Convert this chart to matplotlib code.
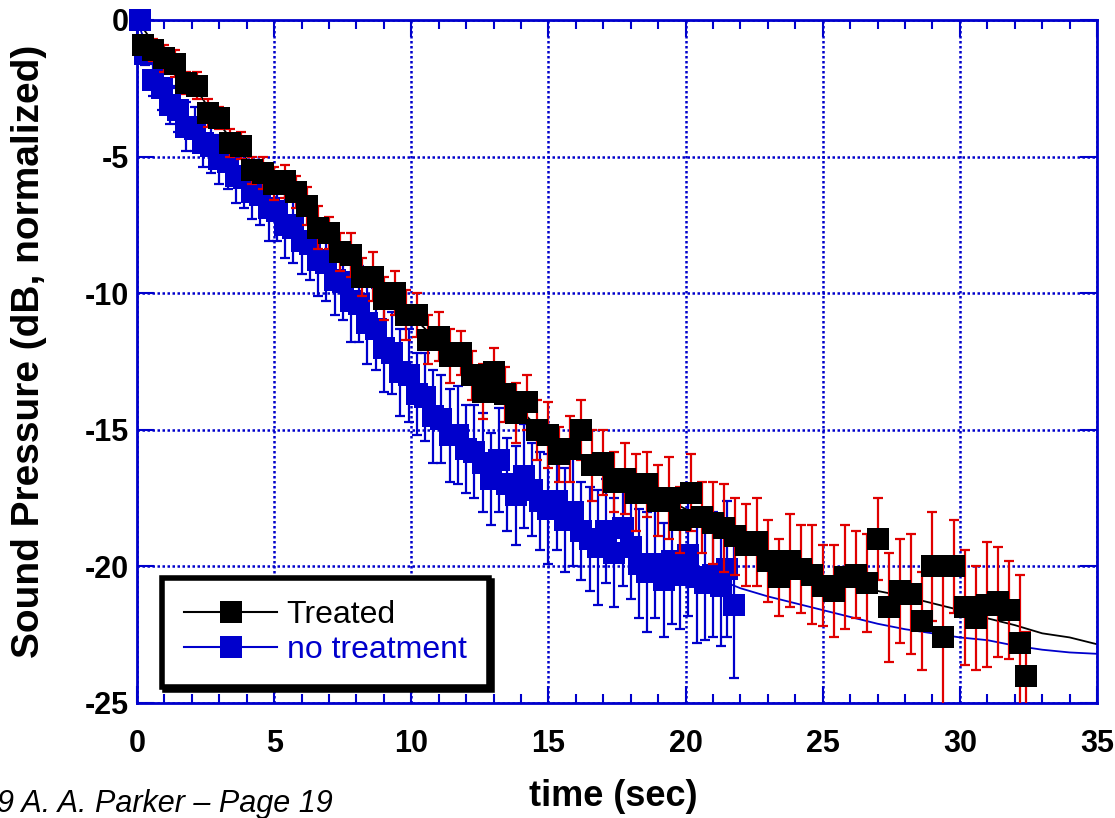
"""Reverberation decay: treated vs. untreated"""

import matplotlib

matplotlib.use("Agg")
import matplotlib.pyplot as plt
from matplotlib.lines import Line2D

plt.rcParams["font.family"] = ["Liberation Sans", "DejaVu Sans"]
plt.rcParams["axes.unicode_minus"] = False

BLUE = "#0000CC"
RED = "#E00000"

# Treated (black squares, red error bars)
t_treated = [0.2, 0.6, 1.0, 1.4, 1.8, 2.2, 2.6, 3.0, 3.4, 3.8, 4.2, 4.6, 5.0,
             5.4, 5.8, 6.2, 6.6, 7.0, 7.4, 7.8, 8.2, 8.6, 9.0, 9.4, 9.8, 10.2,
             10.6, 11.0, 11.4, 11.8, 12.2, 12.6, 13.0, 13.4, 13.8, 14.2, 14.6,
             15.0, 15.4, 15.8, 16.2, 16.6, 17.0, 17.4, 17.8, 18.2, 18.6, 19.0,
             19.4, 19.8, 20.2, 20.6, 21.0, 21.4, 21.8, 22.2, 22.6, 23.0, 23.4,
             23.8, 24.2, 24.6, 25.0, 25.4, 25.8, 26.2, 26.6, 27.0, 27.4, 27.8,
             28.2, 28.6, 29.0, 29.4, 29.8, 30.2, 30.6, 31.0, 31.4, 31.8, 32.2,
             32.4]
db_treated = [-0.9, -1.1, -1.4, -1.6, -2.3, -2.4, -3.4, -3.6, -4.5, -4.6, -5.5,
              -5.6, -6.0, -5.9, -6.3, -6.8, -7.6, -7.8, -8.5, -8.6, -9.4, -9.4,
              -10.2, -10.0, -10.8, -10.8, -11.7, -11.6, -12.3, -12.2, -13.0,
              -13.6, -12.9, -13.7, -14.4, -14.0, -15.0, -15.2, -15.9, -15.7,
              -15.0, -16.3, -16.2, -16.9, -16.8, -17.3, -17.0, -17.6, -17.5,
              -18.3, -17.3, -18.2, -18.4, -18.6, -18.9, -19.2, -19.1, -19.8,
              -20.4, -19.8, -20.1, -20.3, -20.7, -20.9, -20.4, -20.3, -20.6,
              -19.0, -21.5, -20.9, -21.0, -22.0, -20.0, -22.6, -20.0, -21.5,
              -21.9, -21.4, -21.3, -21.6, -22.8, -24.0]
err_treated = [0.2, 0.4, 0.5, 0.5, 0.4, 0.5, 0.5, 0.4, 0.5, 0.5, 0.5, 0.6, 0.6,
               0.6, 0.6, 0.7, 0.8, 0.6, 0.7, 0.8, 0.7, 0.9, 0.8, 0.8, 0.9, 0.8,
               0.9, 0.9, 1.0, 0.8, 0.9, 1.0, 0.9, 1.0, 1.1, 1.0, 1.1, 1.2, 1.0,
               1.2, 1.1, 1.3, 1.2, 1.1, 1.3, 1.4, 1.2, 1.3, 1.5, 1.2, 1.4, 1.3,
               1.5, 1.6, 1.4, 1.5, 1.6, 1.5, 1.4, 1.7, 1.6, 1.8, 1.5, 1.7, 1.9,
               1.6, 1.8, 1.5, 2.0, 1.9, 2.2, 1.8, 2.0, 2.6, 1.7, 2.1, 1.9, 2.3,
               2.0, 1.8, 2.5, 1.6]

# No treatment (blue squares, blue error bars)
t_none = [0.1, 0.3, 0.6, 0.9, 1.2, 1.5, 1.8, 2.1, 2.4, 2.7, 3.0, 3.3, 3.6, 3.9,
          4.2, 4.5, 4.8, 5.1, 5.4, 5.7, 6.0, 6.3, 6.6, 6.9, 7.2, 7.5, 7.8, 8.1,
          8.4, 8.7, 9.0, 9.3, 9.6, 9.9, 10.2, 10.5, 10.8, 11.1, 11.4, 11.7,
          12.0, 12.3, 12.6, 12.9, 13.2, 13.5, 13.8, 14.1, 14.4, 14.7, 15.0,
          15.3, 15.6, 15.9, 16.2, 16.5, 16.8, 17.1, 17.4, 17.7, 18.0, 18.3,
          18.6, 18.9, 19.2, 19.5, 19.8, 20.1, 20.4, 20.7, 21.0, 21.3, 21.5,
          21.75]
db_none = [0.0, -1.25, -2.2, -2.5, -3.1, -3.3, -3.9, -4.0, -4.5, -4.6, -5.1,
           -5.2, -5.7, -5.8, -6.3, -6.4, -6.9, -7.0, -7.5, -7.6, -8.1, -8.2,
           -8.8, -8.9, -9.5, -9.6, -10.3, -10.4, -11.1, -11.3, -12.0, -12.2,
           -12.9, -13.0, -13.7, -13.8, -14.5, -14.6, -15.2, -15.2, -15.7, -15.8,
           -16.2, -16.8, -16.1, -17.0, -17.4, -16.7, -17.2, -17.6, -17.9, -17.6,
           -18.3, -18.0, -18.7, -19.0, -19.3, -18.7, -19.5, -18.6, -19.3, -19.9,
           -20.2, -19.9, -20.5, -19.8, -20.3, -19.6, -20.4, -20.6, -20.3, -20.7,
           -20.1, -21.4]
err_none = [0.05, 0.4, 0.6, 0.8, 0.7, 0.8, 0.9, 0.8, 0.9, 1.0, 0.9, 1.0, 1.0,
            1.1, 1.0, 1.1, 1.2, 1.1, 1.2, 1.3, 1.2, 1.3, 1.3, 1.4, 1.3, 1.4,
            1.5, 1.4, 1.5, 1.5, 1.6, 1.5, 1.6, 1.7, 1.5, 1.6, 1.7, 1.6, 1.7,
            1.8, 1.6, 1.7, 1.8, 1.7, 1.9, 1.7, 1.8, 1.9, 1.7, 1.8, 2.0, 1.8,
            1.9, 2.0, 1.8, 1.9, 2.1, 1.9, 2.0, 2.1, 1.9, 2.0, 2.2, 2.0, 2.1,
            2.3, 2.0, 2.2, 2.4, 2.1, 2.3, 2.2, 2.5, 2.7]

# thin continuous traces (mostly hidden under the markers)
t_line = [0, 1, 2, 3, 4, 5, 6, 7, 8, 9, 10, 11, 12, 13, 14, 15, 16, 17, 18,
          19, 20, 21, 22, 23, 24, 25, 26, 27, 28, 29, 30, 31, 32, 33, 34, 35]
line_treated = [0.0, -1.4, -2.3, -3.8, -5.1, -6.0, -6.7, -8.0, -9.0, -10.0,
                -10.8, -11.8, -12.6, -13.3, -14.3, -15.3, -15.8, -16.4, -17.0,
                -17.4, -17.9, -18.4, -19.0, -19.7, -20.1, -20.5, -20.7, -20.9,
                -21.1, -21.35, -21.6, -21.9, -22.15, -22.45, -22.6, -22.85]
line_none = [0.0, -2.8, -3.9, -4.9, -5.9, -6.9, -8.0, -9.1, -10.4, -12.0,
             -13.4, -14.6, -15.7, -16.6, -17.3, -17.9, -18.5, -19.1, -19.5,
             -19.9, -20.1, -20.4, -20.8, -21.1, -21.35, -21.6, -21.85, -22.1,
             -22.3, -22.45, -22.6, -22.7, -22.9, -23.05, -23.15, -23.2]

x_ticks = [0, 5, 10, 15, 20, 25, 30, 35]
y_ticks = [-25, -20, -15, -10, -5, 0]

fig = plt.figure(figsize=(11.15, 8.18), dpi=100)
ax = fig.add_axes([0.1229, 0.1406, 0.861, 0.835])

ax.plot(t_line, line_treated, color="black", lw=1.3, zorder=2)
ax.plot(t_line, line_none, color=BLUE, lw=1.3, zorder=2)

ax.errorbar(t_none, db_none, yerr=err_none, fmt="none", ecolor=BLUE,
            elinewidth=1.6, capsize=3.6, capthick=1.6, zorder=3)
ax.plot(t_none, db_none, "s", color=BLUE, ms=16.5, mew=0, clip_on=False,
        zorder=4)
ax.errorbar(t_treated, db_treated, yerr=err_treated, fmt="none", ecolor=RED,
            elinewidth=1.6, capsize=3.6, capthick=1.6, zorder=5)
ax.plot(t_treated, db_treated, "s", color="black", ms=16.5, mew=0,
        clip_on=False, zorder=6)

ax.set_xlim(0, 35)
ax.set_ylim(-25, 0)
ax.set_xticks(x_ticks)
ax.set_xticks(range(0, 36), minor=True)
ax.set_yticks(y_ticks)
ax.tick_params(which="both", direction="in", top=True, right=True,
               color=BLUE, width=1.5, labelsize=22)
ax.tick_params(which="major", length=12)
ax.tick_params(which="minor", length=6.5)
ax.tick_params(axis="x", pad=19)
ax.tick_params(axis="y", pad=6)
for lab in ax.get_xticklabels() + ax.get_yticklabels():
    lab.set_fontweight("bold")
for sp in ax.spines.values():
    sp.set_color(BLUE)
    sp.set_linewidth(2)
ax.grid(True, which="major", color=BLUE, linestyle=(0, (1, 1)), lw=1.8)
ax.set_axisbelow(True)

ax.set_xlabel("time (sec)", fontsize=26, fontweight="bold")
ax.xaxis.set_label_coords(0.496, -0.112)
ax.set_ylabel("Sound Pressure (dB, normalized)", fontsize=28,
              fontweight="bold")
ax.yaxis.set_label_coords(-0.094, 0.515)

handles = [
    Line2D([], [], color="black", lw=1.5, marker="s", ms=16, mew=0),
    Line2D([], [], color=BLUE, lw=1.5, marker="s", ms=16, mew=0),
]
leg = ax.legend(handles, ["Treated", "no treatment"], loc="lower left",
                bbox_to_anchor=(0.026, 0.023), borderaxespad=0,
                fontsize=23, handlelength=2.9, handletextpad=0.3,
                labelspacing=0.15, borderpad=0.7, fancybox=False,
                shadow={"color": "black", "alpha": 1}, framealpha=1)
leg.get_frame().set_edgecolor("black")
leg.get_frame().set_linewidth(4)
leg.get_texts()[1].set_color(BLUE)
leg.set_zorder(10)

fig.text(333 / 1115, 1 - 812 / 818, "\u00a9 2009 A. A. Parker \u2013 Page 19",
         ha="right", va="baseline", fontsize=22, style="italic")

fig.savefig("out.png", dpi=100)
